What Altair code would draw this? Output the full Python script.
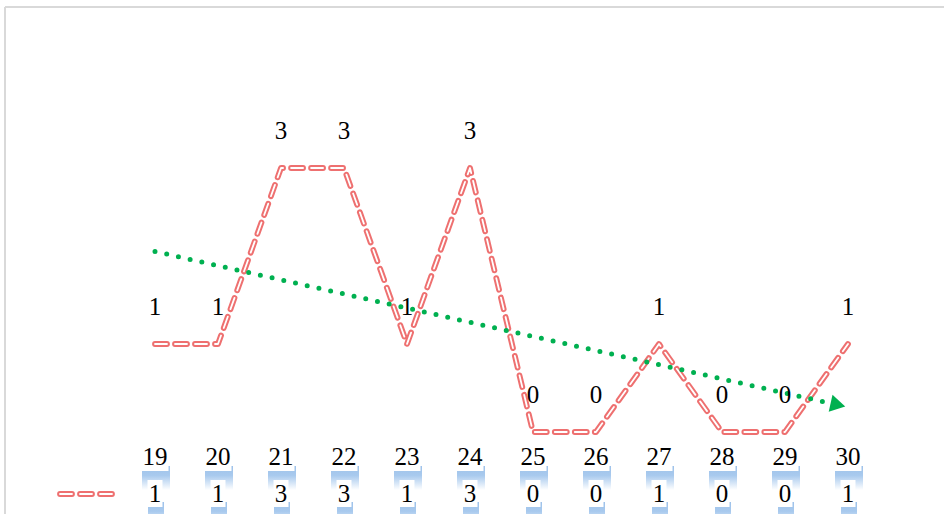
import math
import altair as alt
import numpy as np
import pandas as pd

# ---- data ----
categories = [19, 20, 21, 22, 23, 24, 25, 26, 27, 28, 29, 30]
values = [1, 1, 3, 3, 1, 3, 0, 0, 1, 0, 0, 1]

df = pd.DataFrame({
    "i": list(range(len(categories))),
    "cat": [str(c) for c in categories],
    "v": values,
    "val": [str(v) for v in values],
})

# linear trend (same as the chart's trendline)
slope, intercept = np.polyfit(df["i"], df["v"], 1)
last = len(categories) - 1
arrow_x = last - 0.16
arrow_df = pd.DataFrame({"i": [arrow_x], "v": [intercept + slope * arrow_x]})

PX_X = 63.0   # pixels per category step
PX_Y = 88.0   # pixels per value unit
angle = math.degrees(math.atan(-slope * PX_Y / PX_X))

XS = alt.Scale(domain=[0, last], range=[155, 848])
X = alt.X("i:Q", scale=XS, axis=None)
Y = alt.Y("v:Q", scale=alt.Scale(domain=[0, 3], range=[432, 168]), axis=None)

RED = "#ec6060"
GREEN = "#00b050"
FONT = "Liberation Serif"
FS = 25

base = alt.Chart(df)
one = alt.Chart(pd.DataFrame({"k": [0]}))

frame_top = one.mark_rule(color="#d9d9d9", strokeWidth=2).encode(
    x=alt.value(5), x2=alt.value(944), y=alt.value(7))
frame_left = one.mark_rule(color="#d9d9d9", strokeWidth=2).encode(
    x=alt.value(5), y=alt.value(7), y2=alt.value(514))

dash = [12, 8]
line_outer = base.mark_line(stroke=RED, strokeWidth=5.8, strokeDash=dash, opacity=0.9,
                            strokeCap="round", strokeJoin="round").encode(x=X, y=Y)
line_inner = base.mark_line(stroke="white", strokeWidth=1.8, strokeDash=dash,
                            strokeCap="round", strokeJoin="round").encode(x=X, y=Y)

trend = base.transform_regression("i", "v", extent=[0, last - 0.37]).mark_line(
    stroke=GREEN, strokeWidth=5, strokeDash=[0, 12], strokeCap="round"
).encode(x=X, y=Y)

arrow = alt.Chart(arrow_df).mark_point(
    shape="triangle-right", filled=True, color=GREEN, opacity=1, size=300, angle=angle
).encode(x=X, y=Y)

labels = base.mark_text(font=FONT, fontSize=FS, baseline="alphabetic", dy=-29,
                        color="black").encode(x=X, y=Y, text="val:N")

# ---- data table below the plot ----
hw = "(length(datum.t)*6+1.5)/63"
def cell_layers(field, y_box0, y_box1, y_sh0, y_sh1, y_text):
    b = base.transform_calculate(t=f"datum.{field}").transform_calculate(
        x1=f"datum.i - {hw}", x2=f"datum.i + {hw}",
        s1=f"datum.i - {hw} + 0.5/63", s2=f"datum.i + {hw} + 1.5/63")
    shadow = b.mark_rect(fill=alt.LinearGradient(
        gradient="linear", x1=0, y1=0, x2=0, y2=1,
        stops=[alt.GradientStop(offset=0, color="#9ec2ea"),
               alt.GradientStop(offset=0.4, color="#a9caee"),
               alt.GradientStop(offset=1, color="#ffffff")])).encode(
        x=alt.X("s1:Q", scale=XS, axis=None),
        x2="s2:Q", y=alt.value(y_sh0), y2=alt.value(y_sh1))
    box = b.mark_rect(fill="white").encode(
        x=alt.X("x1:Q", scale=XS, axis=None),
        x2="x2:Q", y=alt.value(y_box0), y2=alt.value(y_box1))
    txt = base.mark_text(font=FONT, fontSize=FS, baseline="alphabetic",
                         color="black").encode(x=X, y=alt.value(y_text), text=f"{field}:N")
    return [shadow, box, txt]

row_cat = cell_layers("cat", 444, 471, 466, 490, 465)
row_val = cell_layers("val", 480, 507, 502, 526, 502)

leg_outer = one.mark_rule(stroke=RED, strokeWidth=5.8, strokeDash=dash, strokeCap="round",
                          opacity=0.9).encode(
    x=alt.value(60), x2=alt.value(113), y=alt.value(494))
leg_inner = one.mark_rule(stroke="white", strokeWidth=1.8, strokeDash=dash, strokeCap="round").encode(
    x=alt.value(60), x2=alt.value(113), y=alt.value(494))

chart = alt.layer(
    frame_top, frame_left, line_outer, line_inner, trend, arrow, labels,
    *row_cat, *row_val, leg_outer, leg_inner
).properties(
    width=944, height=514, padding=0,
    autosize=alt.AutoSizeParams(type="none"),
    background="white",
).configure_view(strokeWidth=0)

chart.save("out.html", embed_options={"renderer": "svg", "actions": False})
